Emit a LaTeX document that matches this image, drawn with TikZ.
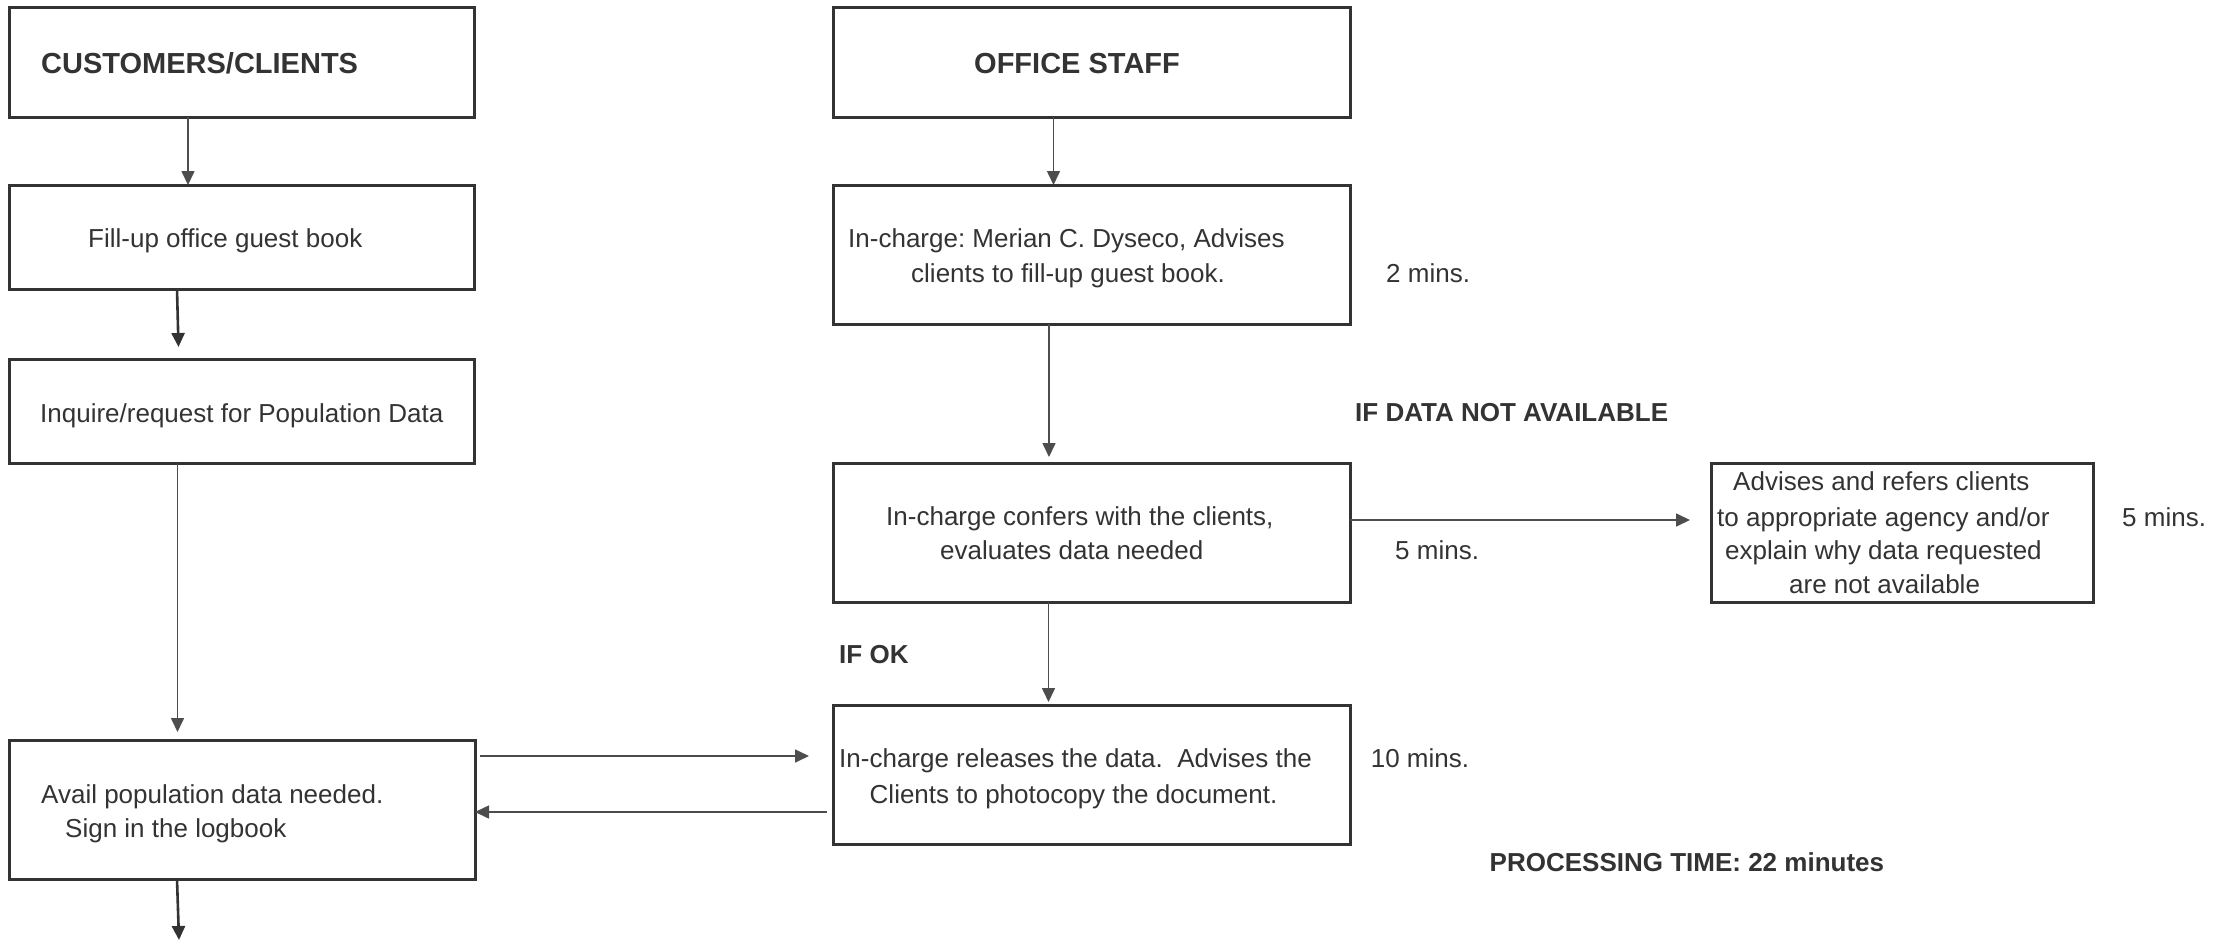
\documentclass[tikz,border=0pt]{standalone}
\usepackage{fontspec}
\setmainfont{Liberation Sans}
\usetikzlibrary{arrows.meta}
\definecolor{ink}{HTML}{333333}
\definecolor{wire}{HTML}{4d4d4d}
\frenchspacing
\begin{document}
\begin{tikzpicture}[x=1pt,y=-1pt,
  box/.style={draw=ink, line width=3pt, rectangle, inner sep=0pt, outer sep=0pt},
  txt/.style={inner sep=0pt, anchor=base west, text=ink, font=\fontsize{26}{31}\selectfont},
  head/.style={txt, font=\fontsize{29}{34}\selectfont\bfseries},
  lbl/.style={txt, font=\fontsize{26}{31}\selectfont\bfseries},
  flow/.style={draw=wire, line width=1.6pt, -{Triangle[length=14pt,width=13pt]}},
  thickflow/.style={draw=ink, line width=2.6pt, -{Triangle[length=14pt,width=13pt]}}
]
\useasboundingbox[fill=white] (0,0) rectangle (2217,948);

% boxes
\node[box, minimum width=465pt, minimum height=110pt] (cust) at (241.5,62) {};
\node[box, minimum width=465pt, minimum height=104pt] (fill) at (241.5,237) {};
\node[box, minimum width=465pt, minimum height=104pt] (inq) at (241.5,411) {};
\node[box, minimum width=466pt, minimum height=139pt] (avail) at (242,809.5) {};
\node[box, minimum width=517pt, minimum height=110pt] (staff) at (1091.5,62) {};
\node[box, minimum width=517pt, minimum height=139pt] (merian) at (1091.5,254.5) {};
\node[box, minimum width=517pt, minimum height=139pt] (confer) at (1091.5,532.5) {};
\node[box, minimum width=517pt, minimum height=139pt] (release) at (1091.5,774.5) {};
\node[box, minimum width=382pt, minimum height=139pt] (advise) at (1902,532.5) {};

% texts
\node[head] (tcust) at (41,73) {CUSTOMERS/CLIENTS};
\node[head] (tstaff) at (974,73) {OFFICE STAFF};
\node[txt] (tfill) at (88,247) {Fill-up office guest book};
\node[txt] (tinq) at (40,422) {Inquire/request for Population Data};
\node[txt] (tav1) at (41,803) {Avail population data needed.};
\node[txt] (tav2) at (65,837) {Sign in the logbook};
\node[txt] (tm1) at (848,247) {In-charge: Merian C. Dyseco, Advises};
\node[txt] (tm2) at (911,282) {clients to fill-up guest book.};
\node[txt] (tmin2) at (1386,282) {2 mins.};
\node[lbl] (tnot) at (1355,421) {IF DATA NOT AVAILABLE};
\node[txt] (tc1) at (886,525) {In-charge confers with the clients,};
\node[txt] (tc2) at (940,559) {evaluates data needed};
\node[txt] (tmin5a) at (1395,559) {5 mins.};
\node[txt] (ta1) at (1733,490) {Advises and refers clients};
\node[txt] (ta2) at (1717,526) {to appropriate agency and/or};
\node[txt] (ta3) at (1725,559) {explain why data requested};
\node[txt] (ta4) at (1789,593) {are not available};
\node[txt] (tmin5b) at (2122,526) {5 mins.};
\node[lbl] (tok) at (839,663) {IF OK};
\node[txt] (tr1) at (839,767) {In-charge releases the data.~ Advises the};
\node[txt] (tr2) at (869.5,803) {Clients to photocopy the document.};
\node[txt] (tmin10) at (1370.6,767) {10 mins.};
\node[lbl] (tproc) at (1489.5,871) {PROCESSING TIME: 22 minutes};

% connectors
\coordinate (endout) at (179,940);
\draw[flow] ([xshift=-53.5pt]cust.south) -- ([xshift=-53.5pt]fill.north);
\draw[thickflow] ([xshift=-64.5pt]fill.south) -- ([xshift=-63pt,yshift=12pt]inq.north);
\draw[flow] ([xshift=-64pt]inq.south) -- ([xshift=-64.5pt,yshift=8pt]avail.north);
\draw[thickflow] ([xshift=-65pt]avail.south) -- (endout);
\draw[flow] ([xshift=-38pt]staff.south) -- ([xshift=-38pt]merian.north);
\draw[flow] ([xshift=-42.5pt]merian.south) -- ([xshift=-42.5pt,yshift=6pt]confer.north);
\draw[flow] ([xshift=-43pt]confer.south) -- ([xshift=-43pt,yshift=3pt]release.north);
\draw[flow] ([yshift=12.5pt]confer.east) -- ([xshift=-21pt,yshift=12.5pt]advise.west);
\draw[flow] ([xshift=5pt,yshift=53.5pt]avail.east) -- ([xshift=-24pt,yshift=18.5pt]release.west);
\draw[flow] ([xshift=-6pt,yshift=-37.5pt]release.west) -- ([yshift=-2.5pt]avail.east);
\end{tikzpicture}
\end{document}
